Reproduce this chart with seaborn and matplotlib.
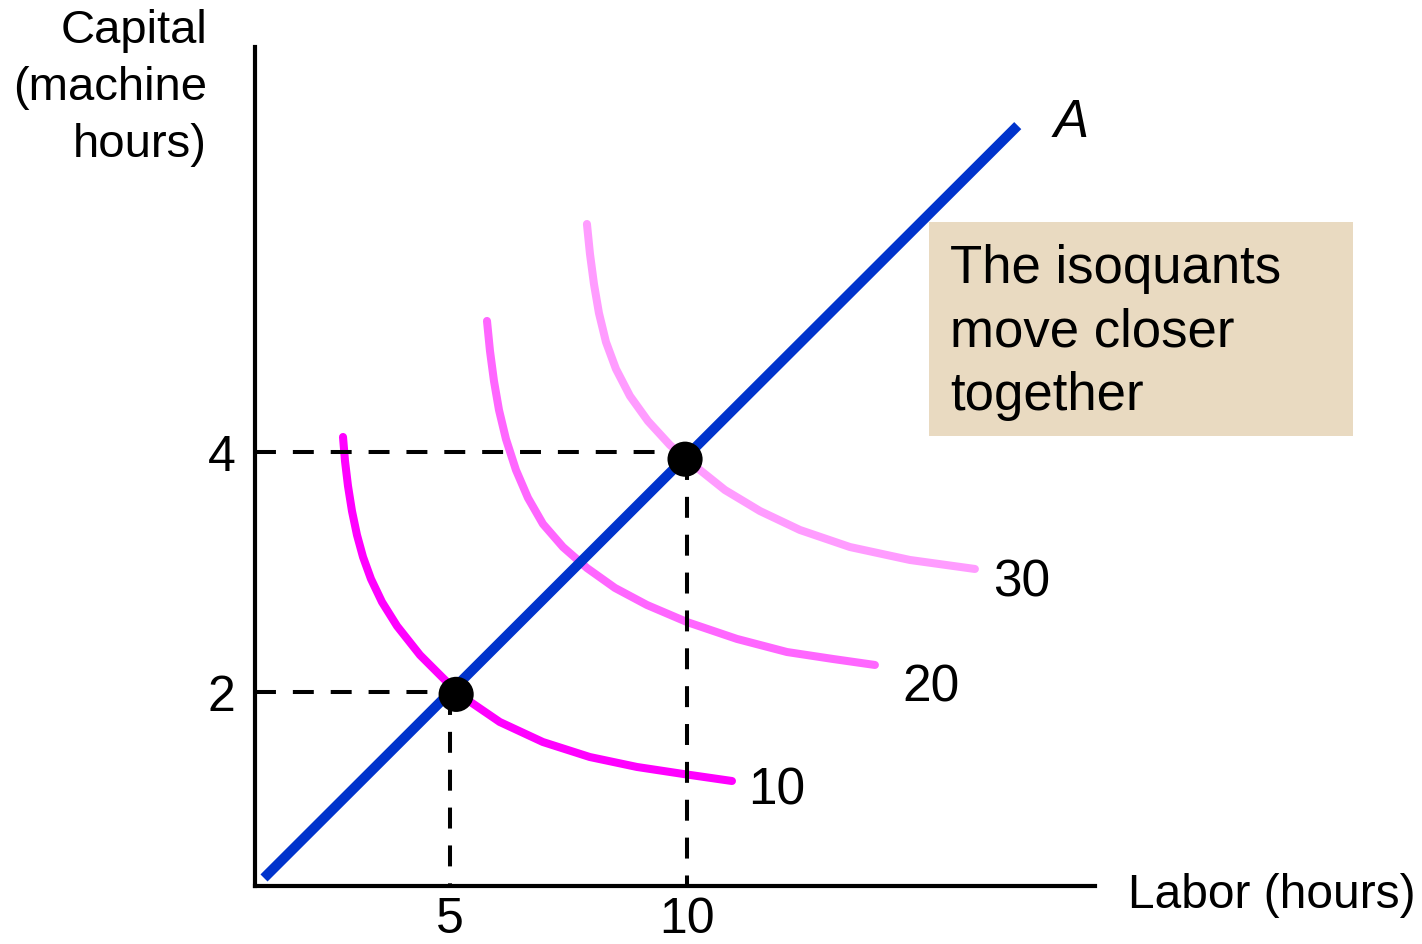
import matplotlib
matplotlib.use("Agg")
import matplotlib.pyplot as plt
from matplotlib.patches import Rectangle
import seaborn as sns


# isoquant q = 10
q10_labor   = [2.743, 2.785, 2.848, 2.932, 3.038, 3.165, 3.333, 3.565, 3.882, 4.367, 4.937,
               5.42, 6.05, 6.96, 7.95, 8.945, 9.915, 10.95]
q10_capital = [4.125, 3.925, 3.717, 3.508, 3.308, 3.125, 2.942, 2.75, 2.55, 2.308, 2.083,
               1.92, 1.75, 1.583, 1.458, 1.375, 1.317, 1.258]

# isoquant q = 20
q20_labor   = [5.781, 5.844, 5.928, 6.034, 6.181, 6.392, 6.646, 6.962, 7.384, 7.890, 8.481,
               9.156, 10.0, 11.055, 12.110, 13.080, 13.966]
q20_capital = [5.092, 4.842, 4.592, 4.350, 4.108, 3.850, 3.617, 3.400, 3.208, 3.033, 2.867,
               2.725, 2.583, 2.442, 2.333, 2.275, 2.225]

# isoquant q = 30
q30_labor   = [7.890, 7.954, 8.038, 8.143, 8.291, 8.502, 8.797, 9.177, 9.641, 10.169, 10.802,
               11.540, 12.384, 13.439, 14.705, 16.076]
q30_capital = [5.90, 5.65, 5.40, 5.158, 4.917, 4.692, 4.467, 4.258, 4.058, 3.883, 3.683,
               3.508, 3.350, 3.208, 3.100, 3.025]

# expansion path A
path_labor   = [1.076, 16.98]
path_capital = [0.45, 6.72]

# chosen points
pt_labor   = [5.13, 9.96]
pt_capital = [1.98, 3.94]

x_ticks = [5, 10]
y_ticks = [2, 4]
q_labels = ["10", "20", "30"]
q_label_pos = [(11.29, 1.067), (14.54, 1.925), (16.46, 2.80)]

xmin, xmax = 0.886, 18.61
ymin, ymax = 0.383, 7.375

sns.set_theme(style="white")
plt.rcParams["font.family"] = ["Liberation Sans", "DejaVu Sans"]
plt.rcParams["text.color"] = "black"

W, H = 1422, 945
fig = plt.figure(figsize=(W / 100, H / 100), dpi=100)
ax = fig.add_axes([255 / W, (H - 887) / H, (1095 - 255) / W, (887 - 48) / H])
ax.set_xlim(xmin, xmax)
ax.set_ylim(ymin, ymax)

# dashed guides
dash_kw = dict(color="black", lw=2.9, dashes=(5.2, 4.2), zorder=3)
ax.plot([xmin, 9.96], [4, 4], **dash_kw)
ax.plot([10, 10], [3.94, ymin], **dash_kw)
ax.plot([xmin, 5.0], [2, 2], **dash_kw)
ax.plot([5, 5], [1.98, ymin], **dash_kw)

# isoquants
for lx, ky, col in [(q10_labor, q10_capital, "#FF00FF"),
                    (q20_labor, q20_capital, "#FF66FF"),
                    (q30_labor, q30_capital, "#FF9CFF")]:
    sns.lineplot(x=lx, y=ky, sort=False, estimator=None, color=col, lw=5.8,
                 solid_capstyle="round", solid_joinstyle="round", ax=ax, zorder=2)

sns.lineplot(x=path_labor, y=path_capital, sort=False, estimator=None,
             color="#0033CC", lw=7.2, solid_capstyle="butt", ax=ax, zorder=4)

sns.scatterplot(x=pt_labor, y=pt_capital, s=640, color="black", edgecolor="none",
                ax=ax, zorder=5)

for lab, (x, y) in zip(q_labels, q_label_pos):
    ax.text(x, y, lab, fontsize=37, ha="left", va="baseline", color="black")

ax.text(18.10, 6.63, "A", fontsize=38, style="italic", ha="center", va="baseline")

# spines / ticks
for s in ["top", "right"]:
    ax.spines[s].set_visible(False)
for s in ["left", "bottom"]:
    ax.spines[s].set_color("black")
    ax.spines[s].set_linewidth(3.0)
ax.set_xticks(x_ticks)
ax.set_xticklabels([str(v) for v in x_ticks])
ax.set_yticks(y_ticks)
ax.set_yticklabels([str(v) for v in y_ticks])
ax.tick_params(axis="both", length=0, labelsize=36, colors="black")
ax.tick_params(axis="x", pad=7)
ax.tick_params(axis="y", pad=14)
ax.grid(False)

# axis titles
fig.text(207 / W, 1 - 9 / H, "Capital\n(machine\nhours)", fontsize=34,
         ha="right", va="top", multialignment="right", linespacing=1.38)
fig.text(1128 / W, 1 - 908 / H, "Labor (hours)", fontsize=34.5, ha="left", va="baseline")

# note box
fig.patches.append(Rectangle((929 / W, 1 - 437 / H), (1353 - 929) / W, (437 - 223) / H,
                             transform=fig.transFigure, facecolor="#E9DAC1",
                             edgecolor="none", zorder=0))
fig.text(950 / W, 1 - 244 / H, "The isoquants\nmove closer\ntogether", fontsize=38,
         ha="left", va="top", linespacing=1.34)

fig.savefig("out.png", dpi=100)
